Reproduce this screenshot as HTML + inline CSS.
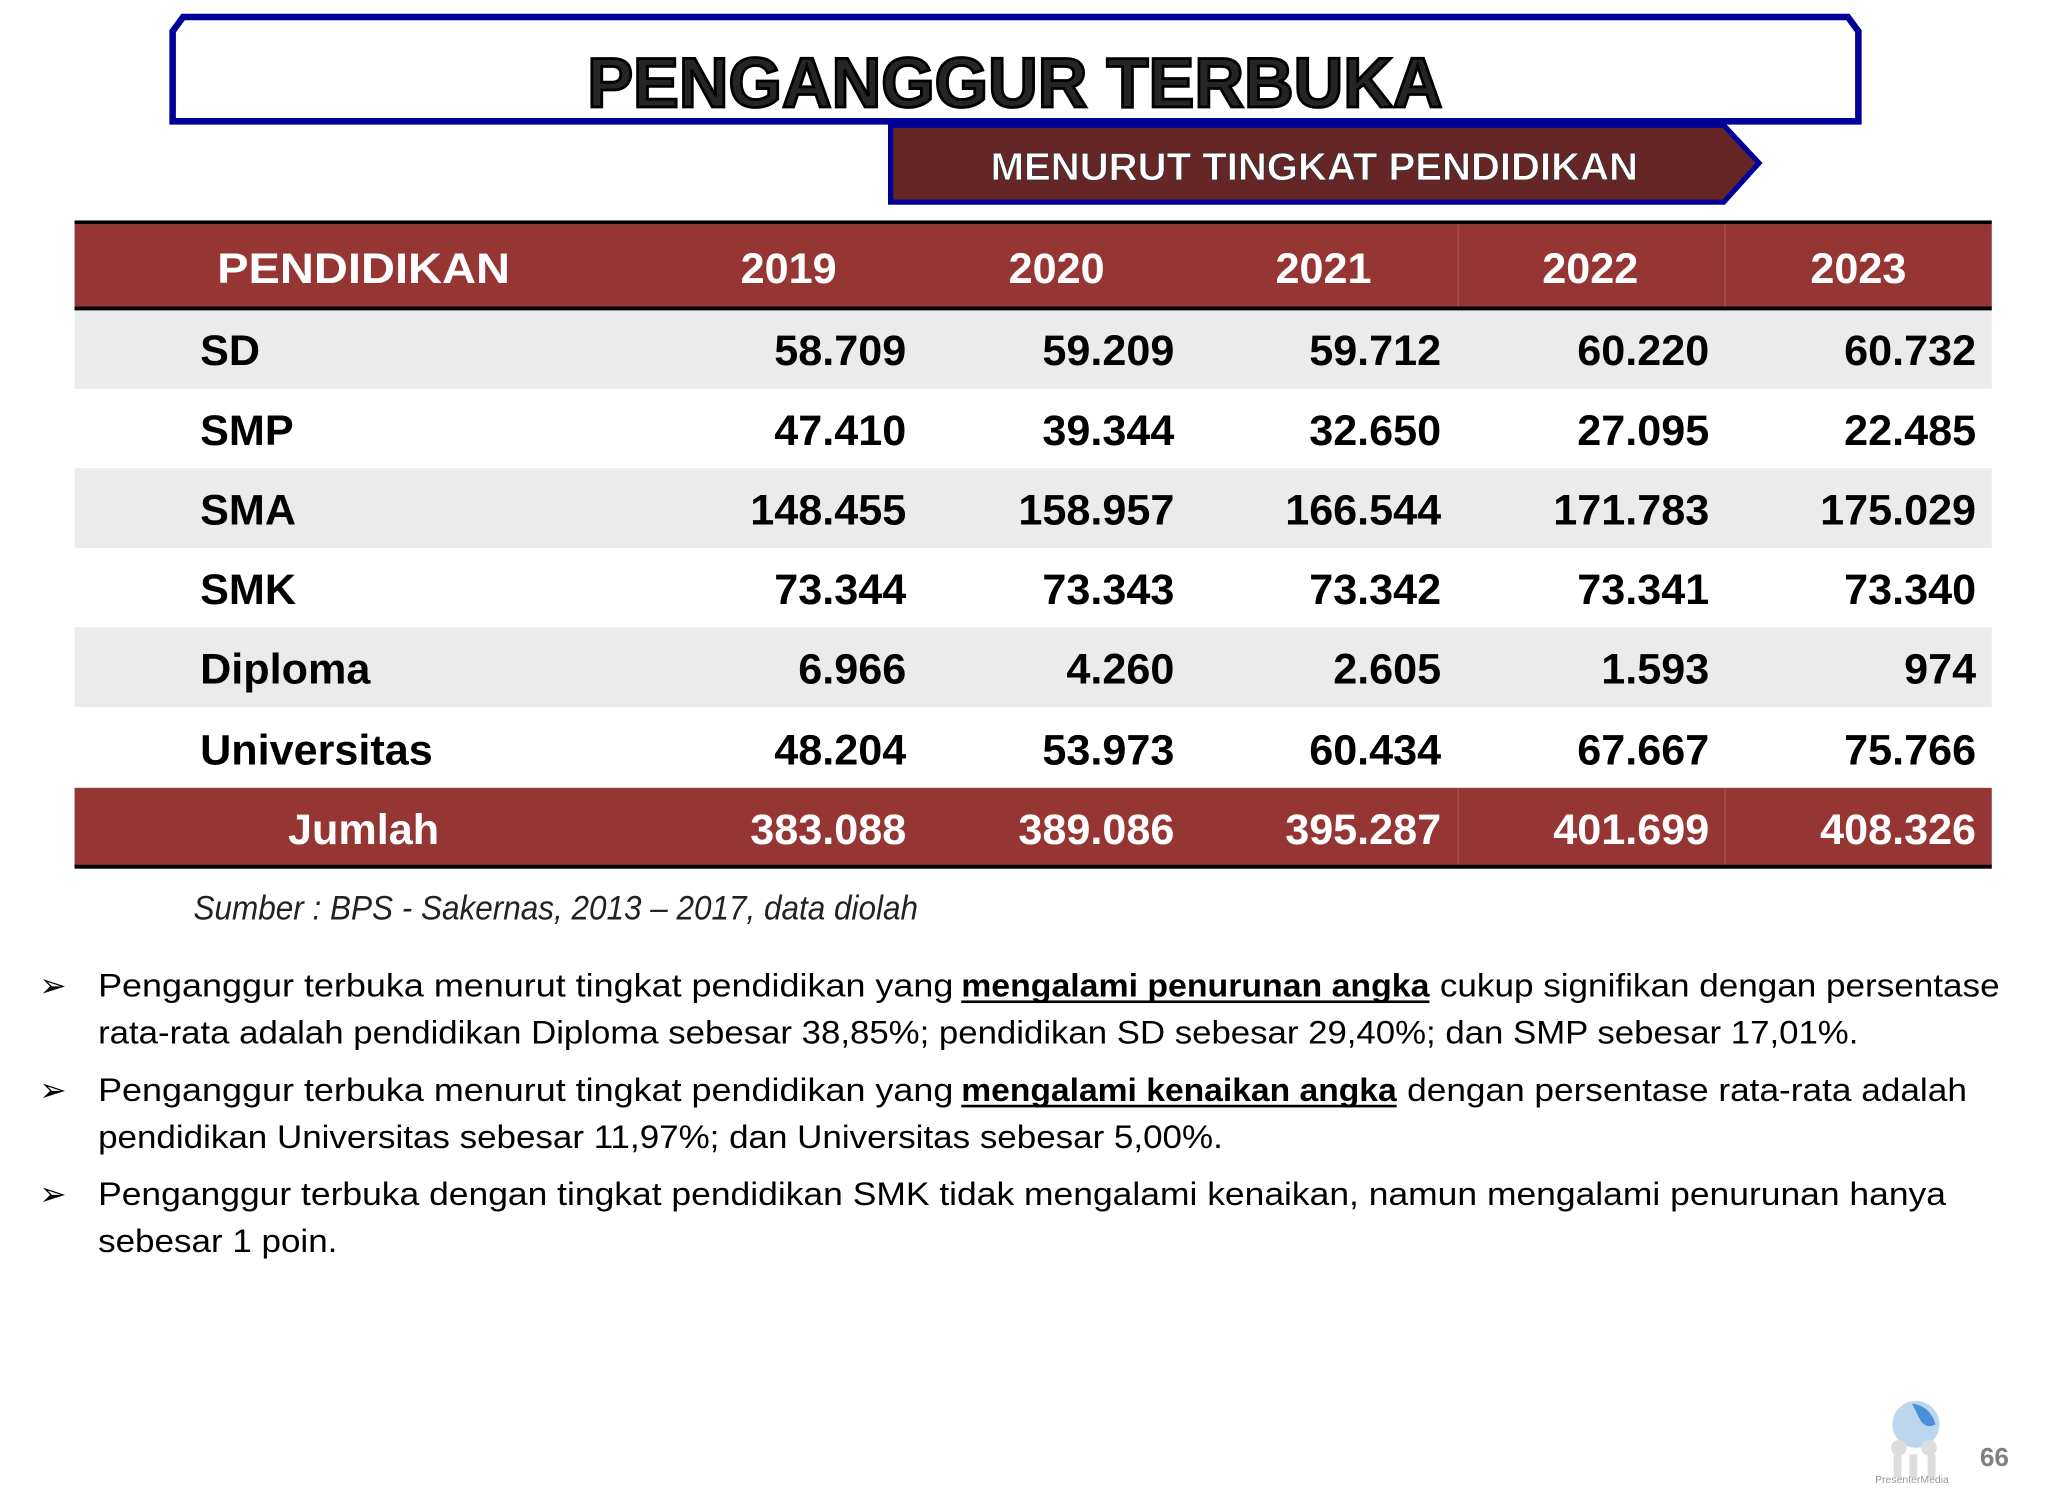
<!DOCTYPE html>
<html><head><meta charset="utf-8"><style>html,body{margin:0;padding:0;background:#fff}svg{display:block}</style></head>
<body>
<svg width="2048" height="1500" viewBox="0 0 1566 1150" preserveAspectRatio="none" xmlns="http://www.w3.org/2000/svg" font-family="Liberation Sans, sans-serif">
<rect width="1566" height="1150" fill="#fff"/>
<polygon points="140,13 1413,13 1421,24 1421,93 132,93 132,24" fill="#fff" stroke="#000099" stroke-width="5"/>
<text x="776" y="82" text-anchor="middle" font-size="54" font-weight="bold" fill="#fff" stroke="#000" stroke-width="2.2" textLength="654" lengthAdjust="spacingAndGlyphs">PENGANGGUR TERBUKA</text>
<text x="776" y="82" text-anchor="middle" font-size="54" font-weight="bold" fill="#000" textLength="654" lengthAdjust="spacingAndGlyphs" opacity="0.85">PENGANGGUR TERBUKA</text>
<polygon points="681,96 1318,96 1345,125 1318,155 681,155" fill="#662626" stroke="#000099" stroke-width="4"/>
<text x="1005" y="138" text-anchor="middle" font-size="30" font-weight="bold" fill="#fff" stroke="#333" stroke-width="0.6" textLength="495" lengthAdjust="spacingAndGlyphs">MENURUT TINGKAT PENDIDIKAN</text>
<rect x="57" y="169" width="1466" height="3" fill="#000"/>
<rect x="57" y="172" width="1466" height="64" fill="#963634"/>
<line x1="1115" y1="172" x2="1115" y2="236" stroke="#a85250" stroke-width="1"/>
<line x1="1319" y1="172" x2="1319" y2="236" stroke="#a85250" stroke-width="1"/>
<rect x="57" y="235" width="1466" height="3" fill="#000"/>
<rect x="57" y="238" width="1466" height="60" fill="#ebebeb"/>
<rect x="57" y="359" width="1466" height="61" fill="#ebebeb"/>
<rect x="57" y="481" width="1466" height="61" fill="#ebebeb"/>
<rect x="57" y="604" width="1466" height="60" fill="#963634"/>
<line x1="1115" y1="604" x2="1115" y2="664" stroke="#a85250" stroke-width="1"/>
<line x1="1319" y1="604" x2="1319" y2="664" stroke="#a85250" stroke-width="1"/>
<rect x="57" y="663" width="1466" height="3" fill="#000"/>
<g font-size="33" font-weight="bold" fill="#fff">
<text x="278" y="217" text-anchor="middle" textLength="224" lengthAdjust="spacingAndGlyphs">PENDIDIKAN</text>
<text x="603" y="217" text-anchor="middle">2019</text>
<text x="808" y="217" text-anchor="middle">2020</text>
<text x="1012" y="217" text-anchor="middle">2021</text>
<text x="1216" y="217" text-anchor="middle">2022</text>
<text x="1421" y="217" text-anchor="middle">2023</text>
<text x="278" y="647" text-anchor="middle">Jumlah</text>
<g text-anchor="end">
<text x="693" y="647">383.088</text><text x="898" y="647">389.086</text><text x="1102" y="647">395.287</text><text x="1307" y="647">401.699</text><text x="1511" y="647">408.326</text>
</g>
</g>
<g font-size="33" font-weight="bold" fill="#000">
<text x="153" y="280">SD</text>
<text x="153" y="341">SMP</text>
<text x="153" y="402">SMA</text>
<text x="153" y="463">SMK</text>
<text x="153" y="524">Diploma</text>
<text x="153" y="586">Universitas</text>
<g text-anchor="end">
<text x="693" y="280">58.709</text><text x="898" y="280">59.209</text><text x="1102" y="280">59.712</text><text x="1307" y="280">60.220</text><text x="1511" y="280">60.732</text>
<text x="693" y="341">47.410</text><text x="898" y="341">39.344</text><text x="1102" y="341">32.650</text><text x="1307" y="341">27.095</text><text x="1511" y="341">22.485</text>
<text x="693" y="402">148.455</text><text x="898" y="402">158.957</text><text x="1102" y="402">166.544</text><text x="1307" y="402">171.783</text><text x="1511" y="402">175.029</text>
<text x="693" y="463">73.344</text><text x="898" y="463">73.343</text><text x="1102" y="463">73.342</text><text x="1307" y="463">73.341</text><text x="1511" y="463">73.340</text>
<text x="693" y="524">6.966</text><text x="898" y="524">4.260</text><text x="1102" y="524">2.605</text><text x="1307" y="524">1.593</text><text x="1511" y="524">974</text>
<text x="693" y="586">48.204</text><text x="898" y="586">53.973</text><text x="1102" y="586">60.434</text><text x="1307" y="586">67.667</text><text x="1511" y="586">75.766</text>
</g>
</g>
<text x="148" y="705" font-size="26" font-style="italic" fill="#222" textLength="554" lengthAdjust="spacingAndGlyphs">Sumber : BPS - Sakernas, 2013 – 2017, data diolah</text>
<g font-size="25" fill="#000">
<text x="30" y="764">➢</text><text x="30" y="844">➢</text><text x="30" y="924">➢</text>
<text x="75" y="764" textLength="654" lengthAdjust="spacingAndGlyphs">Penganggur terbuka menurut tingkat pendidikan yang</text>
<text x="735" y="764" font-weight="bold" textLength="358" lengthAdjust="spacingAndGlyphs">mengalami penurunan angka</text>
<text x="1101" y="764" textLength="428" lengthAdjust="spacingAndGlyphs">cukup signifikan dengan persentase</text>
<text x="75" y="800" textLength="1346" lengthAdjust="spacingAndGlyphs">rata-rata adalah pendidikan Diploma sebesar 38,85%; pendidikan SD sebesar 29,40%; dan SMP sebesar 17,01%.</text>
<text x="75" y="844" textLength="654" lengthAdjust="spacingAndGlyphs">Penganggur terbuka menurut tingkat pendidikan yang</text>
<text x="735" y="844" font-weight="bold" textLength="333" lengthAdjust="spacingAndGlyphs">mengalami kenaikan angka</text>
<text x="1076" y="844" textLength="428" lengthAdjust="spacingAndGlyphs">dengan persentase rata-rata adalah</text>
<text x="75" y="880" textLength="860" lengthAdjust="spacingAndGlyphs">pendidikan Universitas sebesar 11,97%; dan Universitas sebesar 5,00%.</text>
<text x="75" y="924" textLength="1413" lengthAdjust="spacingAndGlyphs">Penganggur terbuka dengan tingkat pendidikan SMK tidak mengalami kenaikan, namun mengalami penurunan hanya</text>
<text x="75" y="960" textLength="183" lengthAdjust="spacingAndGlyphs">sebesar 1 poin.</text>
</g>
<rect x="735" y="767" width="358" height="2" fill="#000"/>
<rect x="735" y="847" width="333" height="2" fill="#000"/>
<circle cx="1465" cy="1092" r="18" fill="#bcd6ee"/>
<path d="M1462,1076 q14,2 18,16 q-8,4 -12,-4 z" fill="#4a90d9"/>
<g fill="#ddd"><circle cx="1452" cy="1110" r="6"/><circle cx="1475" cy="1110" r="6"/><rect x="1448" y="1115" width="6" height="18"/><rect x="1460" y="1115" width="6" height="18"/><rect x="1474" y="1115" width="6" height="18"/></g>
<text x="1462" y="1137" font-size="8" fill="#999" text-anchor="middle">PresenterMedia</text>
<text x="1525" y="1124" font-size="20" font-weight="bold" fill="#808080" text-anchor="middle">66</text>
</svg>
</body></html>
